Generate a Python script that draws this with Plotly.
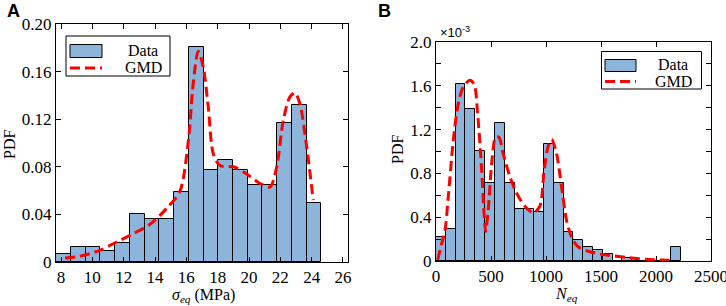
import plotly.graph_objects as go

# ---------------- Panel A data ----------------
a_bin_centers = [8.17, 9.11, 10.05, 10.99, 11.93, 12.87, 13.81, 14.75, 15.69,
                 16.63, 17.57, 18.51, 19.45, 20.39, 21.33, 22.27, 23.21, 24.15]
a_bin_width = 0.94
a_pdf = [0.0065, 0.0126, 0.0126, 0.0095, 0.0157, 0.0404, 0.0365, 0.0365, 0.0586,
         0.181, 0.0769, 0.0858, 0.0771, 0.0648, 0.0648, 0.1164, 0.1316, 0.0499]
a_gmd_x = [8.26, 9.21, 10.49, 11.55, 12.61, 13.68, 14.74, 15.59, 16.13, 16.44,
           16.76, 17.08, 17.40, 17.72, 18.15, 19.0, 19.85, 20.70, 21.34, 21.77,
           22.19, 22.62, 22.94, 23.25, 23.68, 24.10]
a_gmd_y = [0.0034, 0.0048, 0.0098, 0.0168, 0.0238, 0.0317, 0.045, 0.0595, 0.102, 0.150,
           0.177, 0.164, 0.130, 0.091, 0.081, 0.080, 0.074, 0.066, 0.063, 0.080,
           0.119, 0.139, 0.142, 0.133, 0.097, 0.052]
a_yticks = [0, 0.04, 0.08, 0.12, 0.16, 0.20]
a_yticklabels = ["0", "0.04", "0.08", "0.12", "0.16", "0.20"]
a_xticks = [8, 10, 12, 14, 16, 18, 20, 22, 24, 26]

# ---------------- Panel B data (PDF in units of 1e-3) ----------------
b_bin_centers = [44.6, 133.8, 223.0, 312.2, 401.4, 490.6, 579.8, 669.0, 758.2,
                 847.4, 936.6, 1025.8, 1115.0, 1204.2, 1293.4, 1382.6, 1471.8,
                 1561.0, 1650.2, 1739.4, 1828.6, 1917.8, 2007.0, 2096.2, 2185.4]
b_bin_width = 89.2
b_pdf = [0.222, 0.289, 1.621, 1.387, 1.004, 0.709, 1.259, 0.709, 0.478, 0.478,
         0.447, 1.068, 0.709, 0.262, 0.192, 0.128, 0.100, 0.064, 0.0, 0.027,
         0.0, 0.0, 0.0, 0.0, 0.128]
b_gmd_x = [15, 52, 82, 112, 157, 203, 248, 309, 348, 378, 415, 439, 451, 475, 506,
           542, 572, 611, 672, 733, 808, 884, 944, 983, 1020, 1051, 1096, 1141,
           1187, 1232, 1292, 1398, 1550, 1732, 1913, 2064, 2170]
b_gmd_y = [0.01, 0.16, 0.28, 0.59, 1.10, 1.44, 1.59, 1.65, 1.61, 1.35, 0.83, 0.40,
           0.27, 0.47, 0.89, 1.13, 1.13, 0.98, 0.77, 0.62, 0.50, 0.44, 0.50, 0.83,
           1.05, 1.11, 0.98, 0.68, 0.37, 0.22, 0.13, 0.085, 0.055, 0.033, 0.015,
           0.009, 0.003]
b_yticks = [0, 0.4, 0.8, 1.2, 1.6, 2.0]
b_yticklabels = ["0", "0.4", "0.8", "1.2", "1.6", "2.0"]
b_xticks = [0, 500, 1000, 1500, 2000, 2500]

# ---------------- Styling ----------------
W, H = 726, 306
BAR_COLOR = "#8DB4DB"
RED = "#FF0000"
SERIF = "Liberation Serif, Times New Roman, serif"
SANS = "Liberation Sans, Arial, sans-serif"


def px(x):
    return x / W


def py(y):
    return 1 - y / H


fig = go.Figure()

fig.add_trace(go.Bar(x=a_bin_centers, y=a_pdf, width=a_bin_width,
                     marker=dict(color=BAR_COLOR, line=dict(color="black", width=1)),
                     xaxis="x", yaxis="y", showlegend=False))
fig.add_trace(go.Scatter(x=a_gmd_x, y=a_gmd_y, mode="lines",
                         line=dict(color=RED, width=3, dash="10px,5px", shape="spline", smoothing=0.8),
                         xaxis="x", yaxis="y", showlegend=False))
fig.add_trace(go.Bar(x=b_bin_centers, y=b_pdf, width=b_bin_width,
                     marker=dict(color=BAR_COLOR, line=dict(color="black", width=1)),
                     xaxis="x2", yaxis="y2", showlegend=False))
fig.add_trace(go.Scatter(x=b_gmd_x, y=b_gmd_y, mode="lines",
                         line=dict(color=RED, width=3, dash="10px,5px", shape="spline", smoothing=0.8),
                         xaxis="x2", yaxis="y2", showlegend=False))

axis_common = dict(showline=True, linecolor="black", linewidth=1, mirror="ticks",
                   ticks="inside", ticklen=5, tickcolor="black", tickwidth=1,
                   showgrid=False, zeroline=False, automargin=False,
                   ticklabeloverflow="allow",
                   tickfont=dict(family=SERIF, size=17, color="black"))

fig.update_layout(
    template="none",
    width=W, height=H,
    margin=dict(l=0, r=0, t=0, b=0, autoexpand=False),
    paper_bgcolor="white", plot_bgcolor="white",
    barmode="overlay", bargap=0, showlegend=False,
    xaxis=dict(domain=[px(56), px(348)], range=[7.68, 26.32], tickvals=a_xticks,
               anchor="y", **axis_common),
    yaxis=dict(domain=[py(262), py(24)], range=[0, 0.20], tickvals=a_yticks,
               ticktext=a_yticklabels, anchor="x", **axis_common),
    xaxis2=dict(domain=[px(436), px(711)], range=[0, 2500], tickvals=b_xticks,
                anchor="y2", **axis_common),
    yaxis2=dict(domain=[py(261), py(42)], range=[0, 2.0], tickvals=b_yticks,
                ticktext=b_yticklabels, anchor="x2",
                minor=dict(dtick=0.2, ticks="inside", ticklen=5, tickcolor="black", showgrid=False),
                **axis_common),
)

shapes = []
annotations = []


def text(t, x, y, size=17, family=SERIF, angle=0, xanchor="center"):
    annotations.append(dict(text=t, x=px(x), y=py(y), xref="paper", yref="paper",
                            xanchor=xanchor, yanchor="middle", textangle=angle,
                            showarrow=False, font=dict(family=family, size=size, color="black")))


# Panel labels
text("<b>A</b>", 13, 11, size=18, family=SANS)
text("<b>B</b>", 384, 11, size=18, family=SANS)
# x10^-3 exponent
text("×10<sup>-3</sup>", 438, 32, size=13, family=SANS, xanchor="left")
# Axis titles
text("<i>σ</i><sub><i>eq</i></sub> (MPa)", 203, 295, size=16)
text("PDF", 9, 145, size=16, angle=-90)
text("<i>N</i><sub><i>eq</i></sub>", 566, 294, size=16)
text("PDF", 397, 150, size=16, angle=-90)


def legend(box, patch, line_y, text_x, data_y, gmd_y):
    shapes.append(dict(type="rect", xref="paper", yref="paper",
                       x0=px(box[0]), x1=px(box[2]), y0=py(box[3]), y1=py(box[1]),
                       line=dict(color="black", width=1), fillcolor="white", layer="above"))
    shapes.append(dict(type="rect", xref="paper", yref="paper",
                       x0=px(patch[0]), x1=px(patch[2]), y0=py(patch[3]), y1=py(patch[1]),
                       line=dict(color="black", width=1), fillcolor=BAR_COLOR, layer="above"))
    shapes.append(dict(type="line", xref="paper", yref="paper",
                       x0=px(patch[0]), x1=px(patch[2]), y0=py(line_y), y1=py(line_y),
                       line=dict(color=RED, width=3, dash="10px,5px"), layer="above"))
    text("Data", text_x, data_y, size=16)
    text("GMD", text_x, gmd_y, size=16)


legend((66, 36, 170, 76), (70, 44.5, 102, 57.5), 68, 143, 50.5, 67.5)
legend((601.5, 51.5, 701.5, 89), (605, 59.5, 636, 71.5), 81.5, 673, 64.2, 81.2)

fig.update_layout(shapes=shapes, annotations=annotations)

fig.write_html("out.html",
               config={"displayModeBar": False},
               post_script="document.body.style.margin='0';document.body.style.padding='0';")
